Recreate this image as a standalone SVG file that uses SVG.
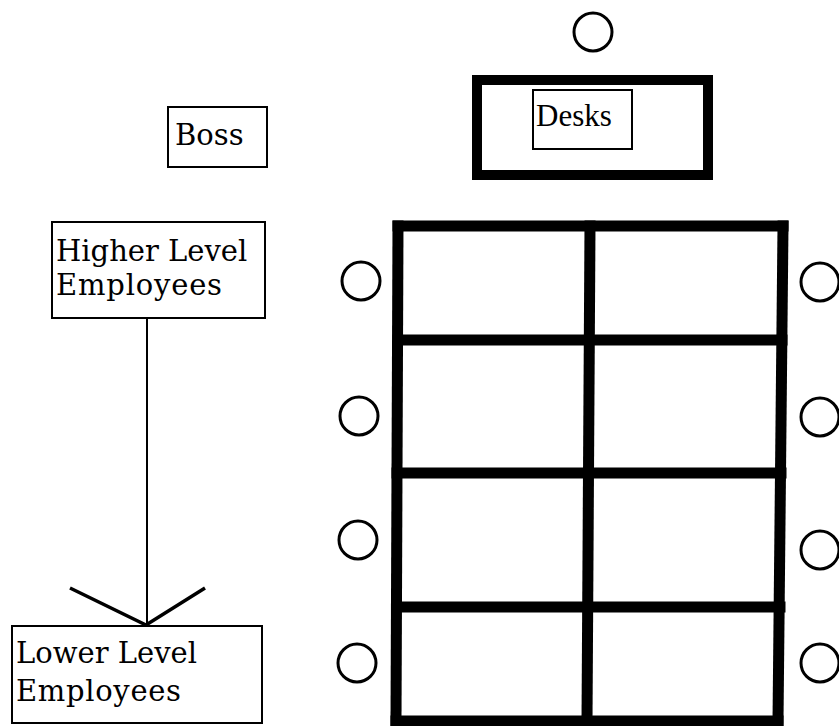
<svg xmlns="http://www.w3.org/2000/svg" width="839" height="726" viewBox="0 0 839 726">
  <style>
    .box { fill: #fff; stroke: #000; stroke-width: 2; }
    .lbl { font-family: "DejaVu Serif", "Liberation Serif", serif; font-size: 29px; fill: #000; }
    .lbl-t { font-family: "Liberation Serif", "Times New Roman", serif; font-size: 31px; fill: #000; }
    .seat { fill: #fff; stroke: #000; stroke-width: 3; }
    .heavy { fill: none; stroke: #000; stroke-width: 11; stroke-linecap: square; }
    .link { fill: none; stroke: #000; stroke-width: 2; }
    .head { fill: none; stroke: #000; stroke-width: 3.5; }
  </style>
  <rect width="839" height="726" fill="#fff"/>

  <!-- boss -->
  <g id="boss">
    <rect class="box" x="168" y="107" width="99" height="60"/>
    <text class="lbl" x="175" y="145">Boss</text>
  </g>

  <!-- desk at the front of the room -->
  <g id="front-desk">
    <rect x="477" y="80" width="231" height="95" fill="none" stroke="#000" stroke-width="10"/>
    <circle class="seat" cx="593" cy="32" r="19"/>
    <g id="desks-label">
      <rect class="box" x="533" y="90" width="99" height="59"/>
      <text class="lbl-t" x="536" y="126">Desks</text>
    </g>
  </g>

  <!-- higher level employees -->
  <g id="higher">
    <rect class="box" x="52" y="222" width="213" height="96"/>
    <text class="lbl" x="56" y="261">Higher Level</text>
    <text class="lbl" x="56" y="295" textLength="166">Employees</text>
  </g>

  <!-- lower level employees -->
  <g id="lower">
    <rect class="box" x="12" y="626" width="250" height="97"/>
    <text class="lbl" x="16" y="663" textLength="181">Lower Level</text>
    <text class="lbl" x="16" y="701" textLength="165">Employees</text>
  </g>

  <!-- connectors -->
  <g id="connectors">
    <line class="link" x1="147" y1="318" x2="147" y2="626"/>
    <polyline class="head" points="70,588 146,625 205,588"/>
  </g>

  <!-- grid of desks -->
  <g id="desk-grid">
    <line class="heavy" x1="398" y1="226" x2="396" y2="721"/>
    <line class="heavy" x1="590" y1="226" x2="587" y2="721"/>
    <line class="heavy" x1="783" y1="226" x2="778" y2="721"/>
    <line class="heavy" x1="398" y1="226" x2="783" y2="226"/>
    <line class="heavy" x1="398" y1="340" x2="782" y2="340"/>
    <line class="heavy" x1="397" y1="473" x2="781" y2="473"/>
    <line class="heavy" x1="397" y1="607" x2="780" y2="607"/>
    <line class="heavy" x1="396" y1="721" x2="778" y2="721"/>
  </g>

  <!-- seats beside the grid -->
  <g id="seats-left">
    <circle class="seat" cx="361" cy="281" r="19"/>
    <circle class="seat" cx="359" cy="416" r="19"/>
    <circle class="seat" cx="358" cy="540" r="19"/>
    <circle class="seat" cx="357" cy="663" r="19"/>
  </g>
  <g id="seats-right">
    <circle class="seat" cx="820" cy="282" r="19"/>
    <circle class="seat" cx="820" cy="417" r="19"/>
    <circle class="seat" cx="820" cy="550" r="19"/>
    <circle class="seat" cx="820" cy="663" r="19"/>
  </g>
</svg>
